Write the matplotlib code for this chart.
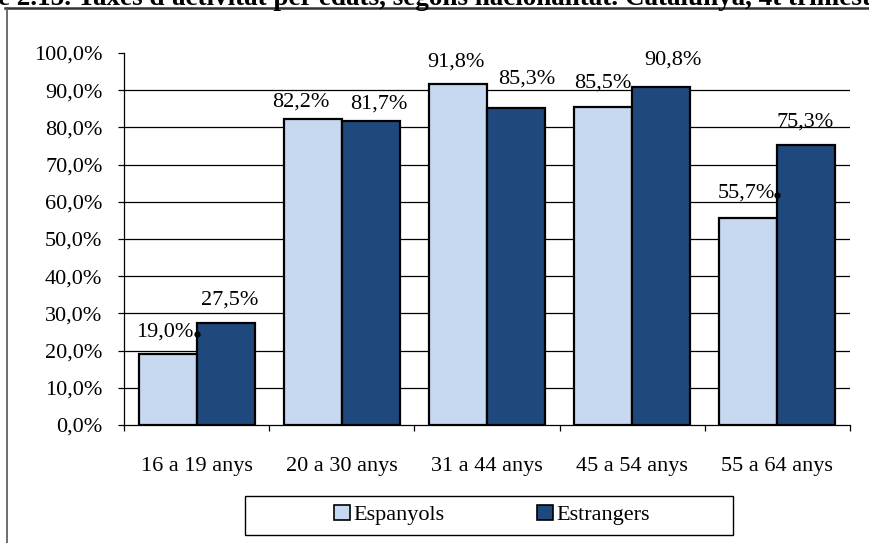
import matplotlib
matplotlib.use("Agg")
import matplotlib.pyplot as plt
import numpy as np
from matplotlib.lines import Line2D
from matplotlib.patches import Rectangle

categories = ["16 a 19 anys", "20 a 30 anys", "31 a 44 anys", "45 a 54 anys", "55 a 64 anys"]
espanyols = [19.0, 82.2, 91.8, 85.5, 55.7]
estrangers = [27.5, 81.7, 85.3, 90.8, 75.3]
series_names = ["Espanyols", "Estrangers"]
yticks = [0, 10, 20, 30, 40, 50, 60, 70, 80, 90, 100]
title = "e 2.15. Taxes d'activitat per edats, segons nacionalitat. Catalunya, 4t trimestre"

# label offsets in pixels (dx, dy) relative to bar top centre
esp_off = [(-3, 22), (-12, 17), (-2, 21), (0, 24), (-2, 25)]
est_off = [(4, 23), (8, 17), (11, 29), (12, 27), (-1, 23)]
dot_idx = [0, 4]  # Espanyols labels carrying a small leader dot

W, H = 869, 543
FS = 16
plt.rcParams['font.family'] = ['Liberation Serif', 'DejaVu Serif']
fig = plt.figure(figsize=(W / 100, H / 100), dpi=100)
fig.patch.set_facecolor('white')

ax = fig.add_axes([124 / W, (H - 425) / H, (850 - 124) / W, (425 - 53) / H])
x = np.arange(len(categories))
bw = 0.4
light = '#C6D9F1'
dark = '#1F497D'
ax.bar(x - bw / 2, espanyols, bw, color=light, edgecolor='black', linewidth=1.6, zorder=3, label=series_names[0])
ax.bar(x + bw / 2, estrangers, bw, color=dark, edgecolor='black', linewidth=1.6, zorder=3, label=series_names[1])

ax.set_xlim(-0.5, len(categories) - 0.5)
ax.set_ylim(0, 100)
ax.set_yticks(yticks)
ax.set_yticklabels([f"{v:.1f}%".replace('.', ',') for v in yticks], fontsize=FS)
for v in yticks[1:-1]:
    ax.axhline(v, color='black', lw=0.9, zorder=1)

ax.set_xticks(x)
ax.set_xticklabels(categories, fontsize=FS)
ax.set_xticks(np.arange(-0.5, len(categories)), minor=True)
ax.tick_params(axis='x', which='major', length=0, pad=23)
ax.tick_params(axis='x', which='minor', length=4.5, width=0.9, direction='out')
ax.tick_params(axis='y', length=4.5, width=0.9, direction='out', pad=11)
for s in ['top', 'right']:
    ax.spines[s].set_visible(False)
for s in ['left', 'bottom']:
    ax.spines[s].set_color('black')
    ax.spines[s].set_linewidth(0.9)

def fmt(v):
    return f"{v:.1f}%".replace('.', ',')

for i, v in enumerate(espanyols):
    dx, dy = esp_off[i]
    ax.annotate(fmt(v), (x[i] - bw / 2, v), xytext=(dx, dy), textcoords='offset pixels',
                ha='center', va='center', fontsize=FS, zorder=5)
for i, v in enumerate(estrangers):
    dx, dy = est_off[i]
    ax.annotate(fmt(v), (x[i] + bw / 2, v), xytext=(dx, dy), textcoords='offset pixels',
                ha='center', va='center', fontsize=FS, zorder=5)
for i in dot_idx:
    dx, dy = esp_off[i]
    disp = ax.transData.transform((x[i], espanyols[i]))
    pt = ax.transData.inverted().transform((disp[0], disp[1] + dy - 2))
    ax.plot([pt[0]], [pt[1]], 'o', color='black', ms=3.5, zorder=6, clip_on=False)

# legend
handles = [Rectangle((0, 0), 1, 1, facecolor=light, edgecolor='black', lw=1.2),
           Rectangle((0, 0), 1, 1, facecolor=dark, edgecolor='black', lw=1.2)]
leg = fig.legend(handles, series_names, loc='center', bbox_to_anchor=(492 / W, 1 - 515 / H),
                 ncol=2, frameon=False, fontsize=FS, handlelength=0.7, handleheight=0.7,
                 handletextpad=0.15, columnspacing=4.2)
fig.patches.append(Rectangle((245 / W, 1 - 535 / H), (733 - 245) / W, (535 - 496) / H,
                             transform=fig.transFigure, facecolor='none', edgecolor='black', lw=1.0))

# outer frame
fig.add_artist(Line2D([5 / W, 1], [1 - 8 / H, 1 - 8 / H], transform=fig.transFigure, color='#333333', lw=1.8))
fig.add_artist(Line2D([7 / W, 7 / W], [0, 1 - 8 / H], transform=fig.transFigure, color='#555555', lw=1.2))

# title (cut off at top, as in the reference)
fig.text(-2 / W, 1 - 5 / H, title, ha='left', va='baseline', fontsize=19.5, fontweight='bold')

fig.savefig('out.png', dpi=100)
